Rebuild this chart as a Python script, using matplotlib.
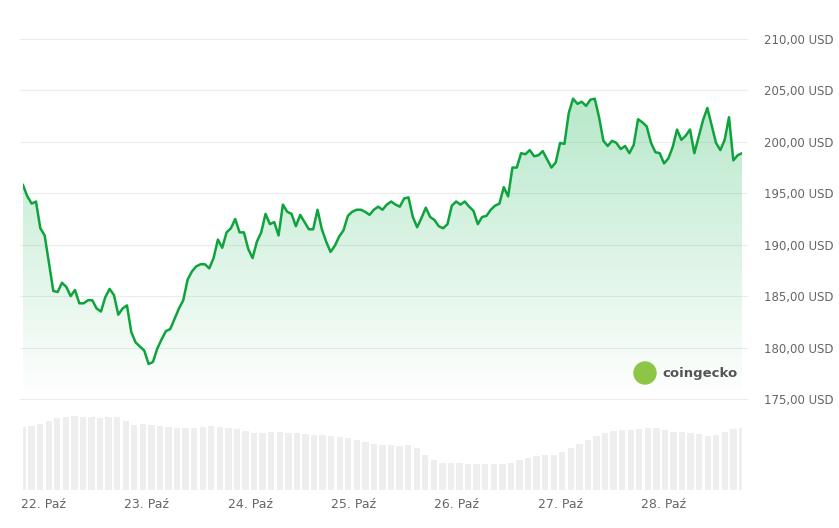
import matplotlib.pyplot as plt
import numpy as np
from matplotlib.patches import Ellipse

# price (USD), roughly hourly from 21.8 to 28.76 Oct
prices = [195.8, 194.7, 194.0, 194.2, 191.6, 190.9, 188.2, 185.5, 185.4, 186.3,
          185.9, 185.0, 185.6, 184.3, 184.3, 184.6, 184.6, 183.8, 183.5, 184.9,
          185.7, 185.1, 183.2, 183.8, 184.1, 181.5, 180.5, 180.1, 179.7, 178.4,
          178.6, 179.9, 180.8, 181.6, 181.8, 182.8, 183.8, 184.6, 186.6, 187.4,
          187.9, 188.1, 188.1, 187.7, 188.7, 190.5, 189.7, 191.2, 191.6, 192.5,
          191.2, 191.2, 189.6, 188.7, 190.3, 191.2, 193.0, 192.0, 192.2, 190.9,
          193.9, 193.2, 193.0, 191.8, 192.9, 192.2, 191.5, 191.5, 193.4, 191.5,
          190.3, 189.3, 189.9, 190.8, 191.4, 192.8, 193.2, 193.4, 193.4, 193.2,
          192.9, 193.4, 193.7, 193.4, 193.9, 194.2, 193.9, 193.7, 194.5,
          194.6, 192.7, 191.7, 192.6, 193.6, 192.7, 192.4, 191.8, 191.6, 192.0,
          193.8, 194.2, 193.9, 194.2, 193.7, 193.3, 192.0, 192.7, 192.8, 193.4,
          193.8, 194.0, 195.6, 194.7, 197.5, 197.5, 198.9, 198.8, 199.2, 198.6,
          198.7, 199.1, 198.3, 197.5, 198.0, 199.9, 199.8, 202.8, 204.2, 203.7,
          203.9, 203.5, 204.1, 204.2, 202.4, 200.1, 199.6, 200.1, 199.9, 199.3,
          199.6, 198.9, 199.7, 202.2, 201.9, 201.5, 199.9, 199.0, 198.9, 197.9,
          198.4, 199.5, 201.2, 200.2, 200.6, 201.2, 198.9, 200.5, 202.1, 203.3,
          201.6, 199.9, 199.2, 200.2, 202.4, 198.2, 198.7, 198.9]

volumes = [63, 64, 66, 69, 72, 73, 74, 73, 73, 72, 73, 73,
           69, 65, 66, 65, 64, 63, 62, 62, 62,
           63, 64, 63, 62, 61, 59, 57, 57, 58, 58, 57,
           57, 56, 55, 55, 54, 53, 52, 50, 48, 46, 45, 45, 44, 45,
           42, 35, 30, 27, 27, 27, 26, 26, 26, 26, 26, 27,
           30, 32, 34, 35, 35, 38, 42, 46, 50, 54,
           57, 59, 60, 60, 61, 62, 62, 60, 58, 58, 57, 56,
           54, 55, 58, 61, 62]

day_ticks = [22, 23, 24, 25, 26, 27, 28]
day_labels = ['22. Paź', '23. Paź', '24. Paź', '25. Paź', '26. Paź', '27. Paź', '28. Paź']
price_ticks = [175, 180, 185, 190, 195, 200, 205, 210]

t0, t1 = 21.80, 28.76
t = np.linspace(t0, t1, len(prices))
tv = np.linspace(t0, t1, len(volumes))

W, H = 839, 528
fig = plt.figure(figsize=(W / 100, H / 100), dpi=100)
green = '#0ea33d'
grey = '#666666'

ax = fig.add_axes([23 / W, 1 - 400 / H, (742 - 23) / W, 380 / H])
ylo, yhi = 174.9, 211.85
ax.set_xlim(t0, t1)
ax.set_ylim(ylo, yhi)
for p in price_ticks:
    ax.plot([t0 - 0.03, t1 + 0.05], [p, p], color='#ececec', lw=0.8, zorder=0, clip_on=False)

fill = ax.fill_between(t, prices, ylo, color='none')
grad = np.linspace(0.32, 0.0, 256).reshape(-1, 1)
img = np.zeros((256, 1, 4))
img[..., 0], img[..., 1], img[..., 2] = 0.12, 0.72, 0.35
img[..., 3] = grad
im = ax.imshow(img, extent=[t0, t1, ylo, max(prices)], aspect='auto', zorder=1)
im.set_clip_path(fill.get_paths()[0], transform=ax.transData)
ax.plot(t, prices, color=green, lw=1.8, zorder=2)

ax.yaxis.tick_right()
ax.set_yticks(price_ticks)
ax.set_yticklabels(['%d,00 USD' % p for p in price_ticks], color=grey, fontsize=8.5)
ax.tick_params(axis='y', length=0, pad=16)
ax.set_xticks([])
for s in ax.spines.values():
    s.set_visible(False)

# coingecko mark
aw, ah = 742 - 23, 380
ax.add_patch(Ellipse(((645 - 23) / aw, (400 - 373) / ah), 22 / aw, 22 / ah,
                     transform=ax.transAxes, color='#8dc647', clip_on=False, zorder=3))
ax.text((662 - 23) / aw, (400 - 373) / ah, 'coingecko', transform=ax.transAxes, fontsize=9.5,
        fontweight='bold', color='#555555', va='center', zorder=3)

vax = fig.add_axes([23 / W, 1 - 490 / H, (742 - 23) / W, 90 / H])
vax.bar(tv, volumes, width=(t1 - t0) / len(volumes) * 0.75, color='#eeeeee')
vax.set_xlim(t0, t1)
vax.set_ylim(0, 90)
vax.set_yticks([])
vax.set_xticks(day_ticks)
vax.set_xticklabels(day_labels, color=grey, fontsize=9)
vax.tick_params(axis='x', length=0, pad=6)
for s in vax.spines.values():
    s.set_visible(False)

fig.savefig('out.png', dpi=100)
